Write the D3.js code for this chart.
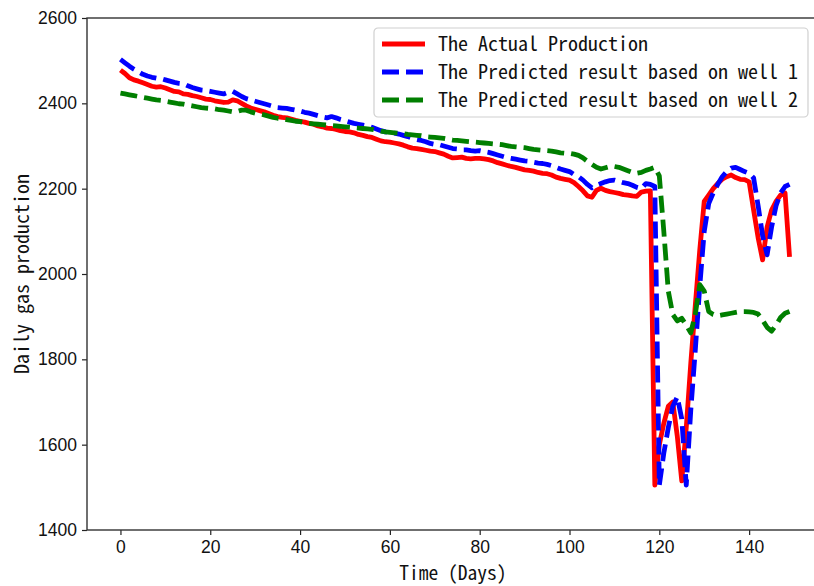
<!DOCTYPE html>
<html>
<head>
<meta charset="utf-8">
<script src="https://cdn.jsdelivr.net/npm/d3@7"></script>
<style>
  body { margin: 0; background: #fff; }
  text { font-family: "Noto Sans CJK SC", sans-serif; font-feature-settings: "hwid"; fill: #111; }
</style>
</head>
<body>
<svg id="chart"></svg>
<script>
// Daily gas production, day 0..149

// Actual production
var actual = [
  2478, 2470, 2460, 2455, 2452, 2448, 2444, 2440, 2438, 2439,
  2436, 2432, 2428, 2427, 2422, 2421, 2418, 2416, 2413, 2410,
  2409, 2406, 2404, 2402, 2403, 2408, 2406, 2400, 2394, 2389,
  2386, 2383, 2380, 2376, 2372, 2369, 2367, 2366, 2363, 2360,
  2358, 2356, 2353, 2351, 2347, 2345, 2342, 2341, 2339, 2336,
  2334, 2333, 2331, 2327, 2325, 2322, 2320, 2316, 2312, 2310,
  2309, 2307, 2305, 2302, 2298, 2295, 2294, 2292, 2290, 2288,
  2287, 2284, 2281, 2276, 2272, 2273, 2274, 2271, 2270, 2271,
  2271, 2270, 2268, 2265, 2261, 2258, 2255, 2252, 2250, 2247,
  2244, 2243, 2241, 2238, 2236, 2235, 2232, 2227, 2224, 2222,
  2220, 2214, 2205, 2195, 2183, 2180, 2196, 2201, 2196, 2193,
  2191, 2189, 2186, 2185, 2183, 2182, 2192, 2194, 2195, 1505,
  1600, 1650, 1690, 1700, 1620, 1515, 1640, 1790, 1925, 2055,
  2170, 2185, 2200, 2212, 2222, 2228, 2232, 2226, 2222, 2221,
  2216, 2150, 2085, 2033, 2110, 2150, 2170, 2185, 2190, 2040
];

// Predicted, based on well 1
var well1 = [
  2503, 2495, 2487, 2480, 2474, 2468, 2464, 2461, 2459, 2458,
  2455, 2452, 2449, 2447, 2446, 2441, 2437, 2434, 2431, 2430,
  2428, 2426, 2424, 2422, 2426, 2428, 2422, 2416, 2411, 2408,
  2405, 2402, 2399, 2396, 2393, 2390, 2389, 2388, 2386, 2384,
  2382, 2379, 2377, 2374, 2371, 2368, 2366, 2369, 2366, 2362,
  2359, 2356, 2353, 2351, 2349, 2347, 2344, 2340, 2336, 2333,
  2331, 2330, 2328, 2325, 2322, 2318, 2315, 2313, 2310, 2306,
  2304, 2303, 2300, 2297, 2294, 2293, 2291, 2291, 2289, 2288,
  2289, 2287, 2285, 2282, 2279, 2276, 2273, 2271, 2269, 2267,
  2265, 2264, 2262, 2260, 2259, 2257, 2254, 2250, 2246, 2243,
  2240, 2233, 2228, 2220, 2210, 2202, 2208, 2212, 2216, 2219,
  2220, 2217, 2214, 2212, 2208, 2203, 2200, 2212, 2210, 2205,
  1505, 1580, 1640, 1690, 1712, 1660, 1505, 1680, 1820, 1970,
  2100, 2165, 2190, 2210, 2228, 2240, 2248, 2250, 2245, 2240,
  2236, 2225, 2160, 2090, 2045, 2110, 2160, 2190, 2205, 2210
];

// Predicted, based on well 2
var well2 = [
  2424, 2422, 2420, 2418, 2416, 2414, 2412, 2410, 2408, 2407,
  2405, 2403, 2401, 2399, 2398, 2396, 2394, 2392, 2390, 2389,
  2388, 2387, 2385, 2384, 2382, 2380, 2381, 2384, 2384, 2380,
  2377, 2375, 2373, 2370, 2367, 2365, 2364, 2362, 2360, 2358,
  2357, 2355, 2353, 2352, 2351, 2350, 2349, 2348, 2347, 2346,
  2345, 2344, 2343, 2342, 2341, 2340, 2339, 2337, 2335, 2333,
  2332, 2331, 2330, 2329, 2327, 2326, 2325, 2324, 2322, 2321,
  2320, 2319, 2318, 2316, 2314, 2313, 2312, 2311, 2310, 2309,
  2308, 2307, 2306, 2305, 2304, 2303, 2301, 2299, 2298, 2297,
  2296, 2294, 2292, 2291, 2290, 2289, 2288, 2286, 2284, 2283,
  2283, 2281, 2278, 2272, 2264, 2257, 2250, 2246, 2249, 2252,
  2252, 2250, 2246, 2242, 2238, 2236, 2238, 2243, 2246, 2250,
  2230, 2100, 1960, 1905, 1890, 1896, 1880, 1862, 1905, 1975,
  1960, 1912, 1905, 1902, 1904, 1906, 1908, 1910, 1912, 1912,
  1911, 1910, 1906, 1892, 1875, 1866, 1880, 1898, 1908, 1912
];

var xTicks = [0, 20, 40, 60, 80, 100, 120, 140];
var yTicks = [1400, 1600, 1800, 2000, 2200, 2400, 2600];
var legendLabels = [
  'The Actual Production',
  'The Predicted result based on well 1',
  'The Predicted result based on well 2'
];

var W = 814, H = 586;
var pLeft = 87, pTop = 18, pRight = 823, pBottom = 530;

var svg = d3.select('#chart').attr('width', W).attr('height', H);

var x = d3.scaleLinear().domain([-7.45, 156.45]).range([pLeft, pRight]);
var y = d3.scaleLinear().domain([1400, 2600]).range([pBottom, pTop]);

svg.append('clipPath').attr('id', 'plot-clip')
  .append('rect')
  .attr('x', pLeft).attr('y', pTop)
  .attr('width', pRight - pLeft).attr('height', pBottom - pTop);

var series = [
  {name: legendLabels[0], values: actual, color: '#ff0000', dash: null},
  {name: legendLabels[1], values: well1, color: '#0000ff', dash: '17,7'},
  {name: legendLabels[2], values: well2, color: '#007f00', dash: '17,7'}
];

var line = d3.line()
  .x(function(d, i) { return x(i); })
  .y(function(d) { return y(d); });

var plot = svg.append('g').attr('clip-path', 'url(#plot-clip)');

plot.selectAll('path.series')
  .data(series)
  .enter()
  .append('path')
  .attr('class', 'series')
  .attr('d', function(d) { return line(d.values); })
  .attr('fill', 'none')
  .attr('stroke', function(d) { return d.color; })
  .attr('stroke-width', 4.8)
  .attr('stroke-linejoin', 'round')
  .attr('stroke-dasharray', function(d) { return d.dash; });

// axes
var xAxis = d3.axisBottom(x).tickValues(xTicks).tickSize(5).tickPadding(6);
var yAxis = d3.axisLeft(y).tickValues(yTicks).tickSize(5).tickPadding(5)
  .tickFormat(d3.format('d'));

var gx = svg.append('g').attr('transform', 'translate(0,' + pBottom + ')').call(xAxis);
var gy = svg.append('g').attr('transform', 'translate(' + pLeft + ',0)').call(yAxis);

[gx, gy].forEach(function(g) {
  g.select('.domain').remove();
  g.selectAll('line').attr('stroke', '#222').attr('stroke-width', 1.2);
  g.selectAll('text').attr('font-size', 17.5).attr('fill', '#111')
    .style('font-family', '"Liberation Sans", Arial, sans-serif');
});

// frame
svg.append('rect')
  .attr('x', pLeft).attr('y', pTop)
  .attr('width', pRight - pLeft).attr('height', pBottom - pTop)
  .attr('fill', 'none').attr('stroke', '#333').attr('stroke-width', 1.4);

// axis labels
svg.append('text')
  .attr('x', 453).attr('y', 580)
  .attr('text-anchor', 'middle').attr('font-size', 19.5)
  .text('Time (Days)');

svg.append('text')
  .attr('transform', 'translate(29,' + ((pTop + pBottom) / 2) + ') rotate(-90)')
  .attr('text-anchor', 'middle').attr('font-size', 20)
  .text('Daily gas production');

// legend
var lg = svg.append('g').attr('transform', 'translate(374,28)');
lg.append('rect')
  .attr('width', 434).attr('height', 89).attr('rx', 4)
  .attr('fill', '#fff').attr('fill-opacity', 0.8)
  .attr('stroke', '#d0d0d0').attr('stroke-width', 1.2);

var rows = lg.selectAll('g.row')
  .data(series)
  .enter()
  .append('g')
  .attr('class', 'row')
  .attr('transform', function(d, i) { return 'translate(0,' + (16 + i * 28) + ')'; });

rows.append('line')
  .attr('x1', 8).attr('x2', 51)
  .attr('stroke', function(d) { return d.color; })
  .attr('stroke-width', 4.8)
  .attr('stroke-dasharray', function(d) { return d.dash; });

rows.append('text')
  .attr('x', 64).attr('y', 7)
  .attr('font-size', 20)
  .text(function(d) { return d.name; });
</script>
</body>
</html>
